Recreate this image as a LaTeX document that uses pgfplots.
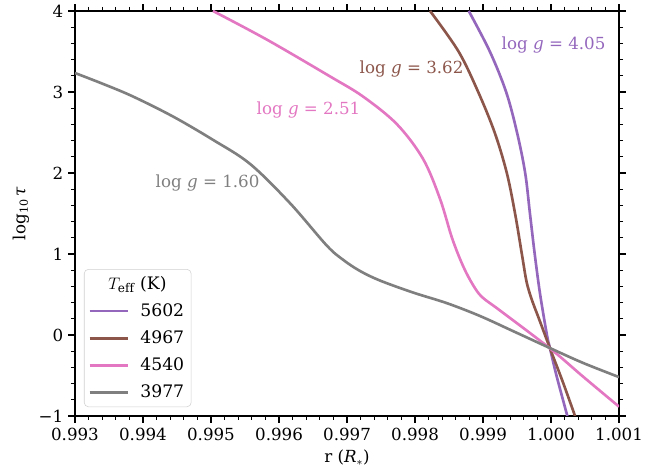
\documentclass[border=0pt]{standalone}
\usepackage{pgfplots}
\pgfplotsset{compat=1.18}
\usepackage{fontspec}
\setmainfont{DejaVu Serif}

\definecolor{cpurple}{HTML}{9467BD}
\definecolor{cbrown}{HTML}{8C564B}
\definecolor{cpink}{HTML}{E377C2}
\definecolor{cgray}{HTML}{7F7F7F}
\newcommand{\fs}{\fontsize{12}{14.4}\selectfont}
\newcommand{\fl}{\fontsize{12.4}{14.8}\selectfont}

\begin{document}
\begin{tikzpicture}
\path[use as bounding box] (-54pt,-39.6pt) rectangle (424.8pt,299.5pt);
\begin{axis}[
  at={(0,0)}, anchor=south west,
  scale only axis, width=391.7pt, height=291.6pt,
  xmin=0.993, xmax=1.001, ymin=-1, ymax=4,
  xtick={0.993,0.994,0.995,0.996,0.997,0.998,0.999,1.000,1.001},
  xticklabels={0.993,0.994,0.995,0.996,0.997,0.998,0.999,1.000,1.001},
  ytick={-1,0,1,2,3,4},
  yticklabels={−1,0,1,2,3,4},
  scaled x ticks=false, scaled y ticks=false,
  minor x tick num=4, minor y tick num=4,
  tick align=outside, tick pos=both,
  major tick length=5pt, minor tick length=2.9pt,
  tick style={black, line width=0.9pt},
  axis line style={line width=1.1pt},
  tick label style={font=\fs},
  label style={font=\fs},
  xlabel={r (\textit{R}$_*$)},
  ylabel={log\textsubscript{10}\,\textit{τ}},
  clip mode=individual,
  legend cell align=left,
  legend style={at={(0.0165,0.022)}, anchor=south west,
    draw=black!18, rounded corners=3pt, fill=white,
    font=\fl, row sep=4.8pt, inner xsep=3pt, inner ysep=3pt,
    nodes={inner sep=2pt},
    /tikz/every odd column/.append style={column sep=6pt},
    /tikz/every even column/.append style={column sep=4pt}},
  legend image code/.code={\draw[#1, line width=1.9pt] (0pt,0pt) -- (27.5pt,0pt);},
]
\addlegendimage{empty legend}
\addlegendentry{\hspace{-23pt}$T_{\mathrm{eff}}$ (K)}

% log g = 4.05
\addplot[cpurple, line width=1.9pt, smooth, tension=0.55] coordinates {
 (0.99879,4.0) (0.99910,3.5) (0.99934,3.0) (0.99950,2.5) (0.99962,2.0)
 (0.99969,1.5) (0.99976,1.0) (0.99984,0.5) (0.99994,0.0) (0.999985,-0.166)
 (1.00008,-0.5) (1.00024,-1.0)
};
\addlegendentry{5602}

% log g = 3.62
\addplot[cbrown, line width=1.9pt, smooth, tension=0.55] coordinates {
 (0.998221,4.0) (0.998640,3.5) (0.998929,3.0) (0.999171,2.5) (0.999350,2.0)
 (0.999471,1.5) (0.999571,1.0) (0.999632,0.691) (0.999676,0.543)
 (0.999735,0.394) (0.999838,0.166) (0.999985,-0.166) (1.000169,-0.570)
 (1.000353,-1.0)
};
\addlegendentry{4967}

% log g = 2.51
\addplot[cpink, line width=1.9pt, smooth, tension=0.55] coordinates {
 (0.995029,4.0) (0.995824,3.645) (0.996750,3.192) (0.997235,2.944)
 (0.997735,2.601) (0.998118,2.174) (0.998368,1.680) (0.998544,1.198)
 (0.998706,0.852) (0.998853,0.617) (0.998985,0.469) (0.999250,0.302)
 (0.999985,-0.166) (1.000471,-0.514) (1.001000,-0.885)
};
\addlegendentry{4540}

% log g = 1.60
\addplot[cgray, line width=1.9pt, smooth, tension=0.55] coordinates {
 (0.993000,3.234) (0.993426,3.095) (0.993853,2.944) (0.994441,2.697)
 (0.995029,2.409) (0.995574,2.112) (0.996162,1.627) (0.996701,1.105)
 (0.996946,0.926) (0.997191,0.790) (0.997485,0.672) (0.997971,0.524)
 (0.998471,0.392) (0.998956,0.234) (0.999441,0.048) (0.999985,-0.162)
 (1.000471,-0.345) (1.001000,-0.520)
};
\addlegendentry{3977}

\node[text=cgray, font=\fs] at (axis cs:0.994949,1.878) {log \textit{g} = 1.60};
\node[text=cpink, font=\fs] at (axis cs:0.996434,2.78) {log \textit{g} = 2.51};
\node[text=cbrown, font=\fs] at (axis cs:0.997949,3.287) {log \textit{g} = 3.62};
\node[text=cpurple, font=\fs] at (axis cs:1.000037,3.583) {log \textit{g} = 4.05};
\end{axis}
\end{tikzpicture}
\end{document}
